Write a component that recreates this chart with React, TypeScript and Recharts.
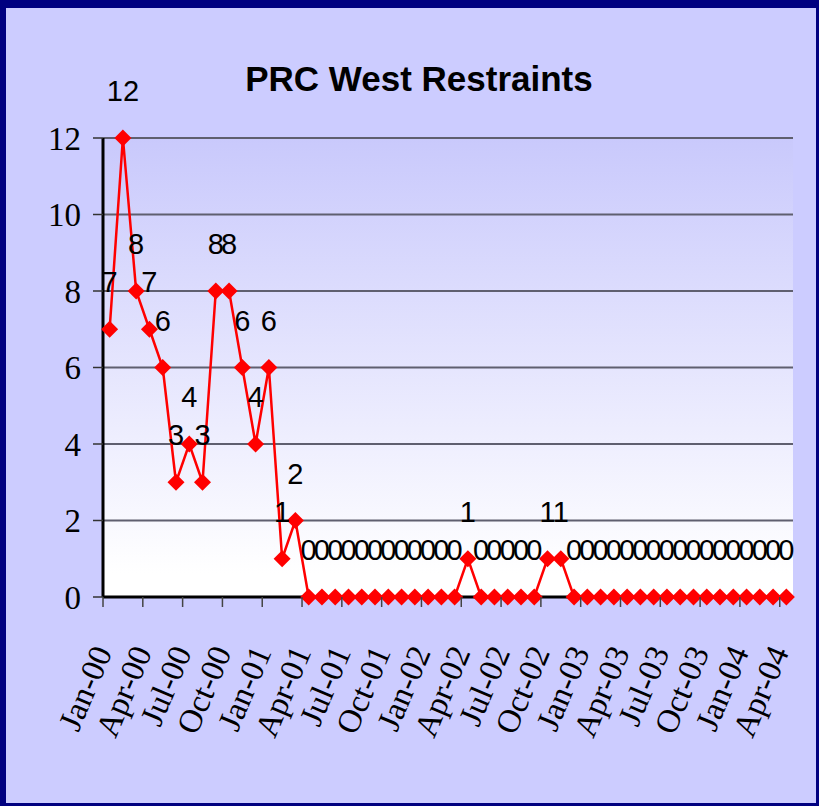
import * as React from "react";
import { LineChart, Line, XAxis, YAxis, CartesianGrid, LabelList } from "recharts";

const months = [
  "Jan-00", "Feb-00", "Mar-00", "Apr-00", "May-00", "Jun-00", "Jul-00", "Aug-00", "Sep-00", "Oct-00", "Nov-00", "Dec-00",
  "Jan-01", "Feb-01", "Mar-01", "Apr-01", "May-01", "Jun-01", "Jul-01", "Aug-01", "Sep-01", "Oct-01", "Nov-01", "Dec-01",
  "Jan-02", "Feb-02", "Mar-02", "Apr-02", "May-02", "Jun-02", "Jul-02", "Aug-02", "Sep-02", "Oct-02", "Nov-02", "Dec-02",
  "Jan-03", "Feb-03", "Mar-03", "Apr-03", "May-03", "Jun-03", "Jul-03", "Aug-03", "Sep-03", "Oct-03", "Nov-03", "Dec-03",
  "Jan-04", "Feb-04", "Mar-04", "Apr-04",
];

const restraints = [
  7, 12, 8, 7, 6, 3, 4, 3, 8, 8, 6, 4,
  6, 1, 2, 0, 0, 0, 0, 0, 0, 0, 0, 0,
  0, 0, 0, 1, 0, 0, 0, 0, 0, 1, 1, 0,
  0, 0, 0, 0, 0, 0, 0, 0, 0, 0, 0, 0,
  0, 0, 0, 0,
];

const yTicks = [0, 2, 4, 6, 8, 10, 12];

const data = months.map((m, i) => ({ month: m, value: restraints[i] }));

const W = 819;
const H = 806;
const PLOT_W = 690;
const HALF = PLOT_W / months.length / 2;
const SERIF = '"Liberation Serif", "Times New Roman", serif';
const NARROW = '"Liberation Sans Narrow", "Arial Narrow", "Liberation Sans", Arial, sans-serif';

function MonthTick(props: any) {
  const { x, y, payload } = props;
  const ax = x + 3;
  const ay = y + 55;
  return (
    <g>
      <line x1={x - HALF} x2={x - HALF} y1={y} y2={y + 10} stroke="#444" strokeWidth={1.5} />
      <text
        x={ax}
        y={ay}
        textAnchor="end"
        transform={`rotate(-67, ${ax}, ${ay})`}
        fontFamily={SERIF}
        fontSize={33}
        fill="#000"
      >
        {payload.value}
      </text>
    </g>
  );
}

function Diamond(props: any) {
  const { cx, cy, index } = props;
  const r = 8.5;
  return (
    <polygon
      key={`d-${index}`}
      points={`${cx},${cy - r} ${cx + r},${cy} ${cx},${cy + r} ${cx - r},${cy}`}
      fill="#ff0000"
    />
  );
}

export default function App() {
  return (
    <div style={{ position: "absolute", left: 0, top: 0, width: W, height: H, background: "#ccccff", overflow: "hidden" }}>
      <LineChart width={W} height={H} data={data} margin={{ top: 138, right: 26, bottom: 9, left: 0 }}>
        <defs>
          <linearGradient id="plotGrad" x1="0" y1="0" x2="0" y2="1">
            <stop offset="0%" stopColor="#c9c9fc" />
            <stop offset="95%" stopColor="#ffffff" />
          </linearGradient>
        </defs>
        <CartesianGrid vertical={false} stroke="#5f5f6f" strokeWidth={2} fill="url(#plotGrad)" fillOpacity={1} />
        <XAxis
          dataKey="month"
          interval={2}
          height={200}
          padding={{ left: HALF, right: HALF }}
          tickLine={false}
          tickSize={0}
          tickMargin={0}
          axisLine={{ stroke: "#000", strokeWidth: 3 }}
          tick={<MonthTick />}
        />
        <XAxis
          xAxisId="top"
          dataKey="month"
          orientation="top"
          height={0}
          tick={false}
          tickLine={false}
          padding={{ left: HALF, right: HALF }}
          axisLine={{ stroke: "#000", strokeWidth: 3 }}
        />
        <YAxis
          domain={[0, 12]}
          ticks={yTicks}
          width={103}
          tickSize={10}
          tickMargin={12}
          tickLine={{ stroke: "#333", strokeWidth: 1.5 }}
          axisLine={{ stroke: "#000", strokeWidth: 3 }}
          tick={{ fontFamily: SERIF, fontSize: 33, fill: "#000" }}
        />
        <YAxis
          yAxisId="right"
          orientation="right"
          domain={[0, 12]}
          width={0}
          tick={false}
          tickLine={false}
          axisLine={{ stroke: "#000", strokeWidth: 3 }}
        />
        <Line
          type="linear"
          dataKey="value"
          stroke="#ff0000"
          strokeWidth={2.5}
          dot={Diamond}
          activeDot={false}
          isAnimationActive={false}
        >
          <LabelList dataKey="value" position="top" offset={37} fontFamily={NARROW} fontSize={29} fill="#000" />
        </Line>
      </LineChart>
      <div
        style={{
          position: "absolute",
          left: 19,
          top: 61,
          width: 800,
          textAlign: "center",
          fontFamily: '"Liberation Sans", Arial, sans-serif',
          fontWeight: "bold",
          fontSize: 35,
          lineHeight: 1,
          color: "#000",
        }}
      >
        PRC West Restraints
      </div>
      <div
        style={{
          position: "absolute",
          inset: 0,
          borderStyle: "solid",
          borderColor: "#000080",
          borderWidth: "8px 3px 3px 6px",
          pointerEvents: "none",
        }}
      />
    </div>
  );
}
